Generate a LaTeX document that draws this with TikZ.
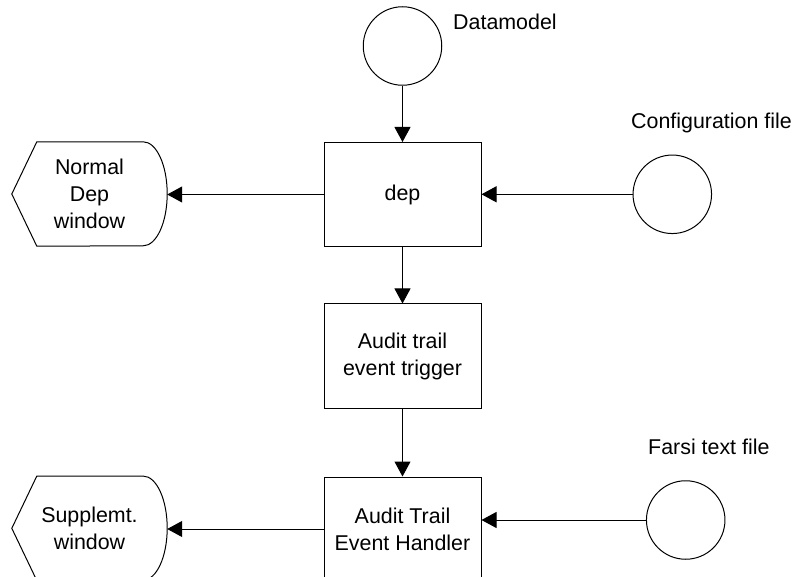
\documentclass[tikz,border=0pt]{standalone}
\usepackage{fontspec}
\setmainfont{Liberation Sans}
\usetikzlibrary{arrows.meta}
\newcommand{\dispoutline}[1]{%
  \draw[outline] (#1.west) -- ([xshift=25pt]#1.north west) -- ([xshift=-24pt]#1.north east)
    arc[start angle=90,end angle=-90,x radius=24pt,y radius=52pt]
    -- ([xshift=25pt]#1.south west) -- cycle;}
\begin{document}
\begin{tikzpicture}[x=1pt,y=-1pt,
  every node/.style={font=\fontsize{21.4pt}{27pt}\selectfont},
  proc/.style={draw,line width=1pt,minimum width=157pt,minimum height=104pt,align=center,inner sep=0pt},
  store/.style={draw,line width=1pt,circle,minimum size=78.5pt,inner sep=0pt},
  disp/.style={minimum width=155pt,minimum height=104pt,align=center,inner sep=0pt},
  lbl/.style={anchor=base west,inner sep=0pt},
  flow/.style={line width=1pt,-{Triangle[length=15pt,width=16pt]}},
  outline/.style={line width=1pt}]
\useasboundingbox (0,0) rectangle (795,577);
\clip (0,0) rectangle (795,577);

\node[store] (dm) at (402.5,46) {};
\node[lbl] (dmt) at (453,29.5) {Datamodel};
\node[proc] (dep) at (402.5,194.5) {dep};
\node[store] (cf) at (672.3,194.3) {};
\node[lbl] (cft) at (631,129) {Configuration file};
\node[disp] (ndw) at (89.5,194) {Normal\\Dep\\window};
\node[proc] (trig) at (402.5,356) {Audit trail\\event trigger};
\node[proc] (hdl) at (402.5,529) {Audit Trail\\Event Handler};
\node[store] (ft) at (685.7,520) {};
\node[lbl] (ftt) at (648,454) {Farsi text file};
\node[disp] (sw) at (89.5,528.3) {Supplemt.\\window};

\dispoutline{ndw}
\dispoutline{sw}

\draw[flow] (dm) -- (dep);
\draw[flow] (cf.west) -- (cf.west -| dep.east);
\draw[flow] (dep.west) -- (dep.west -| ndw.east);
\draw[flow] (dep) -- (trig);
\draw[flow] (trig) -- (hdl);
\draw[flow] (ft.west) -- (ft.west -| hdl.east);
\draw[flow] (hdl.west) -- (hdl.west -| sw.east);
\end{tikzpicture}
\end{document}
